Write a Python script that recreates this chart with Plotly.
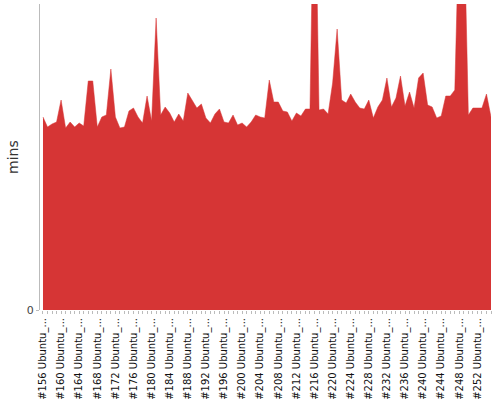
import plotly.graph_objects as go

# build numbers #156 .. #255
builds = list(range(156, 256))
labels = [f"#{b} Ubuntu_..." for b in builds]

# build duration, minutes
mins = [
    19.3, 18.3, 18.6, 18.8, 21.0, 18.2, 18.8, 18.3, 18.7, 18.4,
    22.9, 22.9, 18.3, 19.3, 19.5, 24.1, 19.3, 18.2, 18.3, 19.9,
    20.2, 19.3, 18.7, 21.4, 18.9, 29.2, 19.5, 20.3, 19.7, 18.8,
    19.6, 18.9, 21.7, 21.0, 20.2, 20.6, 19.2, 18.7, 19.6, 20.1,
    18.8, 18.7, 19.5, 18.5, 18.7, 18.3, 18.8, 19.5, 19.3, 19.2,
    23.0, 20.8, 20.8, 19.9, 19.8, 18.9, 19.7, 19.4, 20.1, 20.1,
    48.0, 20.0, 20.1, 19.6, 22.7, 28.1, 21.0, 20.7, 21.6, 20.8,
    20.2, 20.1, 21.0, 19.2, 20.3, 21.0, 23.2, 20.3, 21.2, 23.4,
    20.4, 21.8, 20.2, 23.2, 23.7, 20.5, 20.3, 19.2, 19.4, 21.4,
    21.4, 22.0, 40.0, 40.0, 19.5, 20.2, 20.2, 20.2, 21.6, 19.3,
]

tick_idx = list(range(0, len(builds), 4))

fig = go.Figure()
fig.add_trace(go.Scatter(
    x=list(range(len(builds))),
    y=mins,
    mode="lines",
    fill="tozeroy",
    fillcolor="#d63535",
    line=dict(color="#d63535", width=0.5),
    hoverinfo="skip",
))

fig.update_layout(
    width=500, height=400,
    margin=dict(l=40, r=9, t=4, b=90, autoexpand=False),
    paper_bgcolor="white", plot_bgcolor="white",
    showlegend=False,
    font=dict(family="DejaVu Sans", color="#222"),
)
fig.update_xaxes(
    automargin=False,
    range=[-0.66, 99],
    tickvals=tick_idx,
    ticktext=[labels[i] for i in tick_idx],
    tickangle=-90,
    tickfont=dict(size=10, color="#111"),
    ticks="outside", ticklen=3, tickcolor="#bbb",
    minor=dict(dtick=1, tick0=0, ticks="outside", ticklen=3, tickcolor="#bbb"),
    showgrid=False, zeroline=False, showline=False,
)
fig.update_yaxes(
    automargin=False,
    range=[0, 30.6],
    tickvals=[0],
    ticktext=["0"],
    tickfont=dict(size=11, color="#444"),
    ticks="outside", ticklen=3, tickcolor="#bbb",
    showgrid=False, zeroline=False,
    showline=True, linecolor="#bbb", linewidth=1,
)

# y title as a rotated annotation so it can sit where the original has it
fig.add_annotation(
    text="mins", textangle=-90,
    xref="paper", yref="paper", x=-0.06, y=0.5,
    xanchor="center", yanchor="middle", showarrow=False,
    font=dict(size=14, color="#333"),
)

# page body has an 8px default margin; drop it so the chart sits at 0,0
fig.write_html("out.html", config={"displayModeBar": False},
               post_script="document.body.style.margin='0';")
